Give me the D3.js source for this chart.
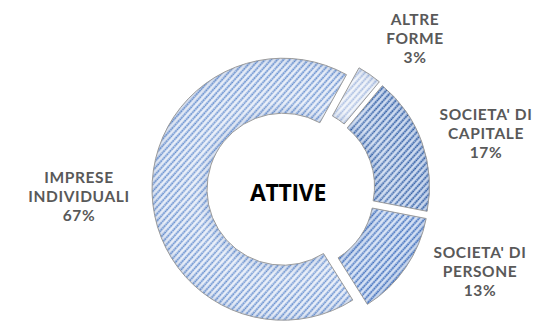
<!DOCTYPE html>
<html>
<head>
<meta charset="utf-8">
<script src="https://cdn.jsdelivr.net/npm/d3@7"></script>
<style>
  html, body { margin: 0; padding: 0; background: #fff; }
  svg { display: block; }
</style>
</head>
<body>
<svg id="chart" width="542" height="324"></svg>
<script>
// ---- data ----
const categories = ["ALTRE FORME", "SOCIETA' DI CAPITALE", "SOCIETA' DI PERSONE", "IMPRESE INDIVIDUALI"];
const labelLines = [["ALTRE", "FORME"], ["SOCIETA' DI", "CAPITALE"], ["SOCIETA' DI", "PERSONE"], ["IMPRESE", "INDIVIDUALI"]];
const values = [3, 17, 13, 67];
const centerTitle = "ATTIVE";

// ---- layout / style ----
const W = 542, H = 324;
const cx = 291, cy = 189;
const outerR = 131, innerR = 76;
const explode = 8;
const startDeg = 29;
const fills = [
  { bg: "#e2e9f5", stripe: "#a3b8df", light: "#f4f7fb" },
  { bg: "#b2c6e6", stripe: "#2a589f", light: "#d6e1f2" },
  { bg: "#bacdec", stripe: "#3768b8", light: "#dce6f6" },
  { bg: "#d3def2", stripe: "#5f8bcd", light: "#edf2fa" }
];
// label block centres (middle line), layout only
const labelPos = [[415, 38.5], [486, 133], [480, 271.5], [79, 196.5]];
const lineGap = 19;

const svg = d3.select("#chart");
const defs = svg.append("defs");

fills.forEach((f, i) => {
  const p = defs.append("pattern")
    .attr("id", "pat" + i)
    .attr("patternUnits", "userSpaceOnUse")
    .attr("width", 4.6).attr("height", 4.6)
    .attr("patternTransform", "rotate(42)");
  p.append("rect").attr("width", 4.6).attr("height", 4.6).attr("fill", f.bg);
  p.append("line").attr("x1", 3.4).attr("x2", 3.4).attr("y1", 0).attr("y2", 4.6)
    .attr("stroke", f.light).attr("stroke-width", 1.3);
  p.append("line").attr("x1", 1.1).attr("x2", 1.1).attr("y1", 0).attr("y2", 4.6)
    .attr("stroke", f.stripe).attr("stroke-width", 1.5)
    .attr("stroke-dasharray", "1.5 0.8");
});

// subtle bevel shading
const rg = defs.append("radialGradient")
  .attr("id", "shade").attr("gradientUnits", "userSpaceOnUse")
  .attr("cx", 0).attr("cy", 0).attr("r", outerR);
rg.append("stop").attr("offset", innerR / outerR).attr("stop-color", "#2a4f90").attr("stop-opacity", 0.10);
rg.append("stop").attr("offset", (innerR / outerR) + 0.08).attr("stop-color", "#ffffff").attr("stop-opacity", 0.12);
rg.append("stop").attr("offset", 0.9).attr("stop-color", "#ffffff").attr("stop-opacity", 0.0);
rg.append("stop").attr("offset", 1).attr("stop-color", "#2a4f90").attr("stop-opacity", 0.12);

const pie = d3.pie().sort(null).value(d => d)
  .startAngle(startDeg * Math.PI / 180)
  .endAngle(startDeg * Math.PI / 180 + 2 * Math.PI);
const arcs = pie(values);
const arc = d3.arc().innerRadius(innerR).outerRadius(outerR);

const g = svg.append("g").attr("transform", `translate(${cx},${cy})`);

arcs.forEach((a, i) => {
  const mid = (a.startAngle + a.endAngle) / 2;
  const dx = Math.sin(mid) * explode, dy = -Math.cos(mid) * explode;
  const sg = g.append("g").attr("transform", `translate(${dx},${dy})`);
  sg.append("path").attr("d", arc(a)).attr("fill", `url(#pat${i})`);
  sg.append("path").attr("d", arc(a)).attr("fill", "url(#shade)")
    .attr("stroke", "#9b9b9b").attr("stroke-width", 1);
});

// centre title
svg.append("text")
  .attr("x", 288).attr("y", 192.5)
  .attr("dy", "0.36em")
  .attr("text-anchor", "middle")
  .attr("font-family", "'Open Sans', 'DejaVu Sans', sans-serif")
  .attr("font-weight", 700)
  .attr("font-size", 23)
  .attr("fill", "#000")
  .attr("letter-spacing", -0.3)
  .text(centerTitle);

// labels (one text element per line)
const fmt = d3.format(".0f");
categories.forEach((c, i) => {
  const [x, y] = labelPos[i];
  const lines = labelLines[i].concat([fmt(values[i]) + "%"]);
  lines.forEach((ln, k) => {
    svg.append("text")
      .attr("x", x)
      .attr("y", y + (k - 1) * lineGap)
      .attr("dy", "0.36em")
      .attr("text-anchor", "middle")
      .attr("font-family", "Lato, 'Open Sans', sans-serif")
      .attr("font-weight", 700)
      .attr("font-size", 15.5)
      .attr("letter-spacing", 0.6)
      .attr("fill", "#595959")
      .text(ln);
  });
});
</script>
</body>
</html>
